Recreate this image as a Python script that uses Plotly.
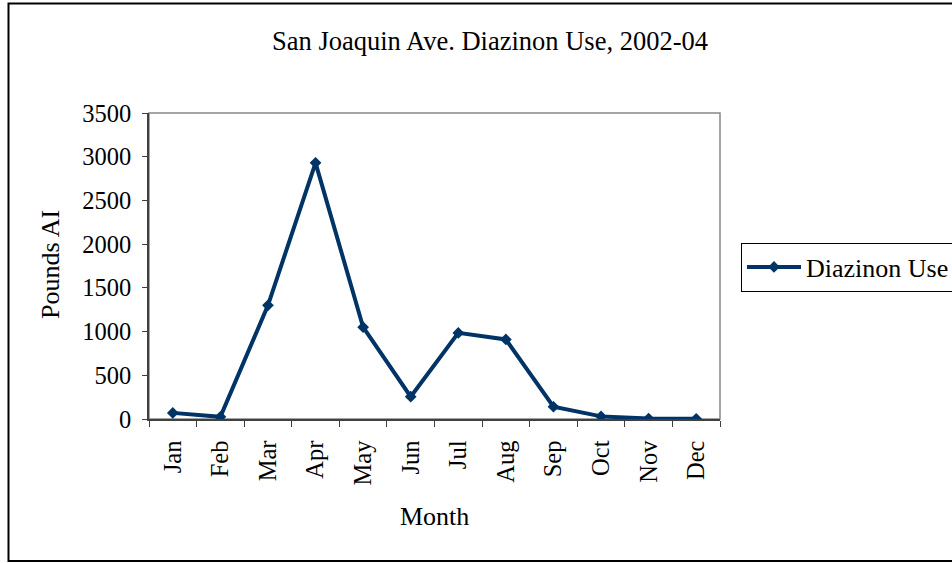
import plotly.graph_objects as go

months = ["Jan", "Feb", "Mar", "Apr", "May", "Jun", "Jul", "Aug", "Sep", "Oct", "Nov", "Dec"]
diazinon_use = [70, 25, 1300, 2930, 1050, 255, 985, 910, 140, 30, 5, 3]
y_ticks = [0, 500, 1000, 1500, 2000, 2500, 3000, 3500]

W, H = 952, 563
L, R, T, B = 149, 720, 113, 419
pw, ph = R - L, B - T

def px(x):
    return (x - L) / pw

def py(y):
    return (B - y) / ph

font = "Liberation Serif, Times New Roman, serif"

fig = go.Figure()
fig.add_trace(go.Scatter(
    x=months, y=diazinon_use, mode="lines+markers", name="Diazinon Use",
    line=dict(color="#003366", width=4),
    marker=dict(symbol="diamond", size=9, color="#003366"),
))

fig.update_layout(
    width=W, height=H,
    margin=dict(l=L, r=W - R, t=T, b=H - B, pad=0, autoexpand=False),
    paper_bgcolor="white", plot_bgcolor="white",
    font=dict(family=font, size=24, color="black"),
    title=dict(text="San Joaquin Ave. Diazinon Use, 2002-04", x=490 / W, xanchor="center",
               xref="container",
               y=1 - 41 / H, yanchor="middle", font=dict(size=26.5)),
    showlegend=True,
    legend=dict(x=px(741), xanchor="left", y=py(267), yanchor="middle",
                bordercolor="black", borderwidth=1, bgcolor="white",
                font=dict(size=26), itemwidth=54),
    xaxis=dict(
        range=[-0.5, 11.5],
        tickangle=-90, ticks="outside", ticklen=6, tickcolor="#404040",
        tickson="boundaries", showline=True, linecolor="#404040", linewidth=1.5,
        showgrid=False, mirror=False, ticklabelstandoff=10,
        tickfont=dict(size=24.5),
    ),
    yaxis=dict(
        range=[0, 3500], tickvals=y_ticks, ticks="outside", ticklen=5, tickcolor="#404040",
        showline=True, linecolor="#404040", linewidth=1.5, showgrid=False, zeroline=False,
        ticklabelstandoff=6,
        tickfont=dict(size=24.5),
    ),
    annotations=[
        dict(text="Month", xref="paper", yref="paper", x=px(434.5), y=py(516),
             xanchor="center", yanchor="middle", showarrow=False, font=dict(size=26)),
        dict(text="Pounds AI", xref="paper", yref="paper", x=px(50), y=py(265),
             xanchor="center", yanchor="middle", showarrow=False, textangle=-90,
             font=dict(size=26)),
    ],
    shapes=[
        dict(type="rect", xref="paper", yref="paper", x0=0, x1=1, y0=0, y1=1,
             line=dict(color="#888888", width=1.5), layer="below"),
        dict(type="rect", xref="paper", yref="paper", x0=px(8.5), x1=px(975),
             y0=py(561), y1=py(3.5), line=dict(color="black", width=2)),
    ],
)

fig.write_html("out.html", config={"displayModeBar": False})

# remove default page margin so the figure sits at the window's top-left corner
with open("out.html", encoding="utf-8") as f:
    html = f.read()
html = html.replace("<body>", '<body style="margin:0;padding:0">', 1)
with open("out.html", "w", encoding="utf-8") as f:
    f.write(html)
